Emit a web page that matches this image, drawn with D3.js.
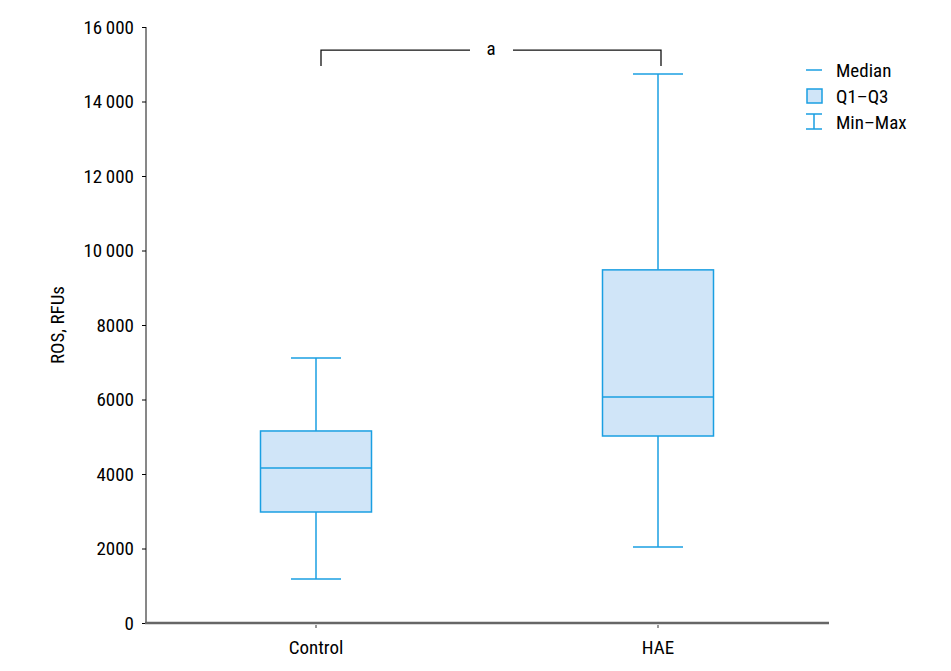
<!DOCTYPE html>
<html lang="en">
<head>
<meta charset="UTF-8">
<title>ROS</title>
<script src="https://d3js.org/d3.v7.min.js"></script>
<style>
body { margin: 0; background: #fff; }
text { font-family: 'Liberation Sans Narrow', 'Roboto Condensed', Roboto, sans-serif; font-size: 19px; fill: #000; }
</style>
</head>
<body>
<svg width="951" height="671"></svg>
<script>
const groups = ['Control', 'HAE'];
const minVals = [1180, 2040];
const q1Vals = [2980, 5020];
const medianVals = [4160, 6070];
const q3Vals = [5155, 9480];
const maxVals = [7115, 14740];
const yTicks = [0, 2000, 4000, 6000, 8000, 10000, 12000, 14000, 16000];

const blue = '#1a9fe2', fillBlue = '#d0e5f8';
const svg = d3.select('svg');

const x = d3.scaleBand().domain(groups).range([145, 829]);
const y = d3.scaleLinear().domain([0, 16000]).range([623, 27]);

const fmt = v => v >= 10000 ? d3.format('d')(v).replace(/(\d{3})$/, '\u2009$1') : String(v);

// y axis
const ya = svg.append('g').attr('transform', 'translate(146,0)')
  .call(d3.axisLeft(y).tickValues(yTicks).tickSize(4).tickPadding(8).tickFormat(fmt));
ya.select('.domain').attr('stroke', '#111').attr('d', `M0,${y(16000)}V${y(0)}`);
ya.selectAll('text').style('font-size', '19px');

// x axis
const xa = svg.append('g').attr('transform', 'translate(0,623)')
  .call(d3.axisBottom(x).tickSize(5).tickPadding(13));
xa.select('.domain').attr('stroke', '#666').attr('stroke-width', 2.5).attr('d', 'M145,0H829');
xa.selectAll('.tick line').attr('stroke', '#333').attr('y1', 2);
xa.selectAll('text').style('font-size', '19px');

svg.append('text').attr('transform', `translate(64,${y(8000)}) rotate(-90)`)
  .attr('text-anchor', 'middle').text('ROS, RFUs');

const bw = 111, cap = 50;
const data = groups.map((g, i) => ({ g, min: minVals[i], q1: q1Vals[i], med: medianVals[i], q3: q3Vals[i], max: maxVals[i] }));
const bx = svg.selectAll('.box').data(data).enter().append('g')
  .attr('transform', d => `translate(${x(d.g) + x.bandwidth() / 2},0)`);
bx.append('line').attr('y1', d => y(d.min)).attr('y2', d => y(d.q1)).attr('stroke', blue).attr('stroke-width', 1.5);
bx.append('line').attr('y1', d => y(d.q3)).attr('y2', d => y(d.max)).attr('stroke', blue).attr('stroke-width', 1.5);
bx.append('line').attr('x1', -cap / 2).attr('x2', cap / 2).attr('y1', d => y(d.min)).attr('y2', d => y(d.min)).attr('stroke', blue).attr('stroke-width', 1.5);
bx.append('line').attr('x1', -cap / 2).attr('x2', cap / 2).attr('y1', d => y(d.max)).attr('y2', d => y(d.max)).attr('stroke', blue).attr('stroke-width', 1.5);
bx.append('rect').attr('x', -bw / 2).attr('width', bw)
  .attr('y', d => y(d.q3)).attr('height', d => y(d.q1) - y(d.q3))
  .attr('fill', fillBlue).attr('stroke', blue).attr('stroke-width', 1.5);
bx.append('line').attr('x1', -bw / 2).attr('x2', bw / 2).attr('y1', d => y(d.med)).attr('y2', d => y(d.med)).attr('stroke', blue).attr('stroke-width', 1.5);

// significance bracket
const bl = x('Control') + x.bandwidth() / 2 + 5, br = x('HAE') + x.bandwidth() / 2 + 3;
const by = y(15380), bt = y(14950), mid = (bl + br) / 2;
const bk = svg.append('g').attr('fill', 'none').attr('stroke', '#111').attr('stroke-width', 1.3);
bk.append('path').attr('d', `M${bl},${bt}V${by}H${mid - 21}`);
bk.append('path').attr('d', `M${mid + 22},${by}H${br}V${bt}`);
svg.append('text').attr('x', mid).attr('y', by + 5).attr('text-anchor', 'middle').text('a');

// legend
const lg = svg.append('g').attr('transform', 'translate(806,0)');
lg.append('line').attr('x1', 0).attr('x2', 16).attr('y1', 70).attr('y2', 70).attr('stroke', blue).attr('stroke-width', 1.5);
lg.append('rect').attr('x', 1).attr('y', 89).attr('width', 15).attr('height', 14).attr('fill', fillBlue).attr('stroke', blue).attr('stroke-width', 1.5);
lg.append('path').attr('d', 'M0,114H16M8,114V129M0,129H16').attr('fill', 'none').attr('stroke', blue).attr('stroke-width', 1.5);
[['Median', 77], ['Q1\u2013Q3', 103], ['Min\u2013Max', 129]].forEach(([t, yy]) =>
  lg.append('text').attr('x', 30).attr('y', yy).text(t));
</script>
</body>
</html>
